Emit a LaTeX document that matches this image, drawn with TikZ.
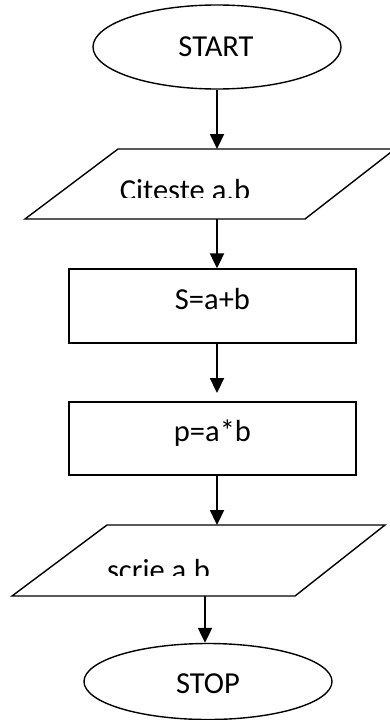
\documentclass[tikz,border=0pt]{standalone}
\usepackage{fontspec}
\setmainfont{Carlito}
\usetikzlibrary{shapes.geometric,arrows.meta}
\begin{document}
\begin{tikzpicture}[x=1pt,y=-1pt,
  shapeline/.style={draw=black,line width=1.4pt},
  term/.style={shapeline,ellipse,minimum width=248pt,inner sep=0pt},
  procbox/.style={shapeline,rectangle,minimum width=287pt,minimum height=74pt,inner sep=0pt},
  lbl/.style={font=\fontsize{30.5}{36}\selectfont,inner sep=0pt,anchor=base},
  arr/.style={line width=2.2pt,-{Triangle[length=15pt,width=14pt]}}]
\useasboundingbox (0,0) rectangle (389,720);
% START
\node[term,minimum height=84pt] (start) at (217,47) {};
\node[lbl] (startt) at (216,56) {START};
% input parallelogram
\coordinate (inTL) at (118,149);
\coordinate (inTR) at (395,149);
\coordinate (inBR) at (305,219);
\coordinate (inBL) at (25,219);
\draw[shapeline] (inTL) -- (inTR) -- (inBR) -- (inBL) -- cycle;
\coordinate (inTop) at (217,149);
\coordinate (inBot) at (217,219);
\begin{scope}
  \clip (25,149) rectangle (395,197);
  \node[lbl] (int) at (185,200.5) {Citeste a.b};
\end{scope}
% S = a+b
\node[procbox] (sum) at (212.5,306) {};
\node[lbl] (sumt) at (212.5,309) {S=a+b};
% p = a*b
\node[procbox,minimum height=73pt] (prod) at (212.5,438.5) {};
\node[lbl] (prodt) at (212.5,441) {p=a*b};
% output parallelogram
\coordinate (outTL) at (107,525);
\coordinate (outTR) at (385,525);
\coordinate (outBR) at (295,596);
\coordinate (outBL) at (12,596);
\draw[shapeline] (outTL) -- (outTR) -- (outBR) -- (outBL) -- cycle;
\coordinate (outTop) at (217,525);
\coordinate (outBot) at (205,596);
\begin{scope}
  \clip (12,525) rectangle (385,575);
  \node[lbl] (outt) at (158.5,580) {scrie a.b};
\end{scope}
% STOP
\node[term,minimum height=76pt] (stop) at (208,681.5) {};
\node[lbl] (stopt) at (208,693) {STOP};
% connectors
\coordinate (a3end) at (217,393);
\draw[arr] (start.south) -- (inTop);
\draw[arr] (inBot) -- (inBot |- sum.north);
\draw[arr] (inBot |- sum.south) -- (a3end);
\draw[arr] (inBot |- prod.south) -- (outTop);
\draw[arr] (outBot) -- (outBot |- stop.north);
\end{tikzpicture}
\end{document}
